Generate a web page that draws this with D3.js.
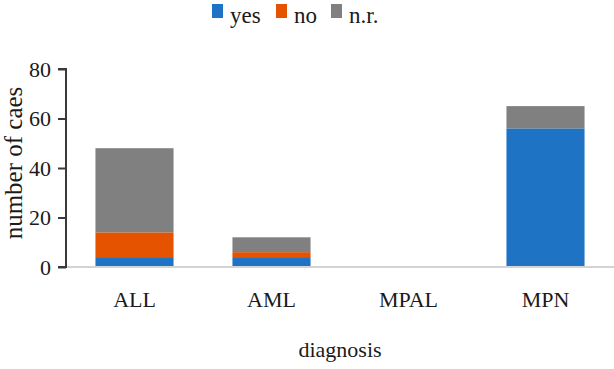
<!DOCTYPE html>
<html>
<head>
<meta charset="utf-8">
<script src="https://cdn.jsdelivr.net/npm/d3@7"></script>
<style>
  body { margin: 0; background: #fff; }
  svg text { font-family: "Liberation Serif", "DejaVu Serif", serif; fill: #1a1a1a; }
</style>
</head>
<body>
<div id="chart"></div>
<script>
// data
var categories = ["ALL", "AML", "MPAL", "MPN"];
var series = ["yes", "no", "n.r."];
var yesVals = [4, 4, 0, 56];
var noVals = [10, 2, 0, 0];
var nrVals = [34, 6, 0, 9];
var yTicks = [0, 20, 40, 60, 80];
var colors = ["#1f73c5", "#e65300", "#808080"];

var W = 614, H = 369;
var padding = {left: 66, right: 0, top: 69, bottom: 102};
var serif = "'Liberation Serif', 'DejaVu Serif', serif";

var svg = d3.select("#chart").append("svg")
    .attr("width", W)
    .attr("height", H);

var rows = categories.map(function(c, i){
    return {cat: c, "yes": yesVals[i], "no": noVals[i], "n.r.": nrVals[i]};
});
var stacked = d3.stack().keys(series)(rows);

var x = d3.scaleBand()
    .domain(categories)
    .range([padding.left, W - padding.right])
    .paddingInner(0.43)
    .paddingOuter(0.215);

var y = d3.scaleLinear()
    .domain([0, 80])
    .range([H - padding.bottom, padding.top]);

// bars
svg.append("g").selectAll("g")
    .data(stacked)
  .enter().append("g")
    .attr("fill", function(d, i){ return colors[i]; })
  .selectAll("rect")
    .data(function(d){ return d; })
  .enter().append("rect")
    .attr("x", function(d){ return x(d.data.cat); })
    .attr("y", function(d){ return y(d[1]); })
    .attr("width", x.bandwidth())
    .attr("height", function(d){ return y(d[0]) - y(d[1]); });

// baseline
svg.append("line")
    .attr("x1", padding.left).attr("x2", W)
    .attr("y1", y(0)).attr("y2", y(0))
    .attr("stroke", "#d4d4d4")
    .attr("stroke-width", 2);

// y axis
var yAxis = d3.axisLeft(y).tickValues(yTicks).tickSize(8).tickPadding(7);
var gy = svg.append("g")
    .attr("transform", "translate(" + padding.left + ",0)")
    .call(yAxis);
gy.attr("font-family", serif);
gy.select(".domain").attr("stroke", "#3a3a3a").attr("stroke-width", 2)
    .attr("d", "M-8," + y(80) + "H0V" + y(0) + "H-8");
gy.selectAll(".tick line").attr("stroke", "#3a3a3a").attr("stroke-width", 2);
gy.selectAll(".tick text")
    .style("font-size", "22px")
    .attr("fill", "#1a1a1a");

// x axis labels
var xAxis = d3.axisBottom(x).tickSize(0).tickPadding(24);
var gx = svg.append("g")
    .attr("transform", "translate(0," + y(0) + ")")
    .call(xAxis);
gx.attr("font-family", serif);
gx.select(".domain").remove();
gx.selectAll(".tick text")
    .style("font-size", "22px")
    .attr("fill", "#1a1a1a");

// axis titles
svg.append("text")
    .attr("x", (padding.left + W) / 2)
    .attr("y", 357)
    .attr("text-anchor", "middle")
    .style("font-size", "22px")
    .text("diagnosis");

svg.append("text")
    .attr("transform", "translate(22," + 163 + ") rotate(-90)")
    .attr("text-anchor", "middle")
    .style("font-size", "25px")
    .text("number of caes");

// legend
var legendX = [212, 276, 331];
var lg = svg.append("g").selectAll("g")
    .data(series)
  .enter().append("g")
    .attr("transform", function(d, i){ return "translate(" + legendX[i] + ",4)"; });
lg.append("rect")
    .attr("width", 11)
    .attr("height", 14)
    .attr("fill", function(d, i){ return colors[i]; });
lg.append("text")
    .attr("x", 18)
    .attr("y", 19)
    .style("font-size", "23px")
    .text(function(d){ return d; });
</script>
</body>
</html>
